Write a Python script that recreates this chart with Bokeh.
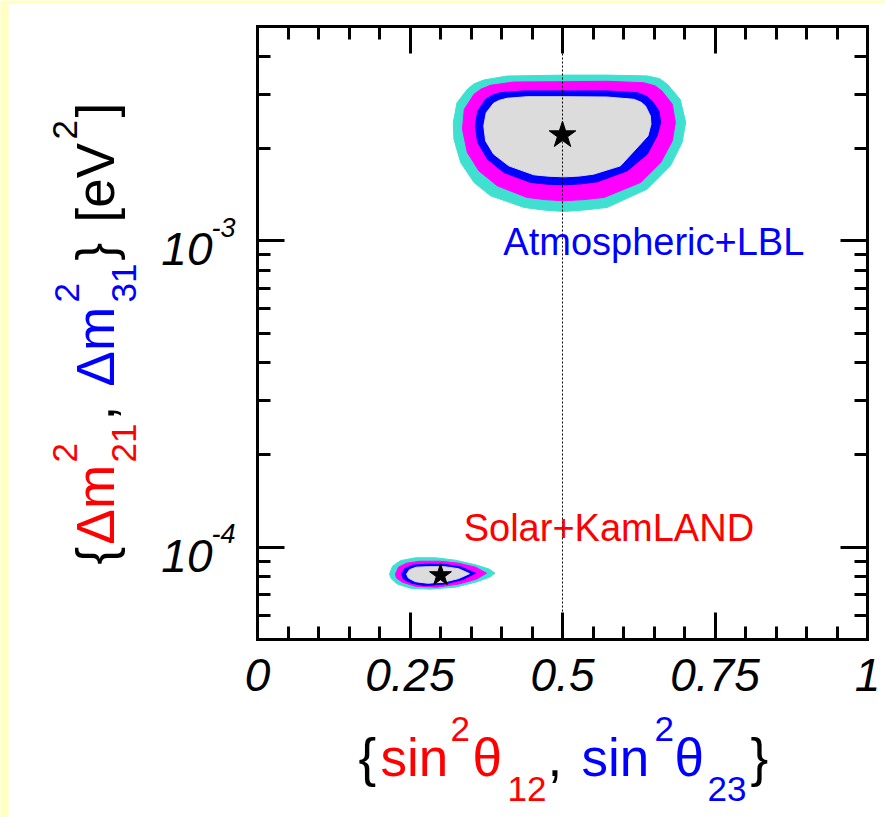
from bokeh.plotting import figure
from bokeh.models import Range1d, LinearAxis, LogAxis, FixedTicker, Label, BoxAnnotation
from bokeh.embed import file_html
from bokeh.resources import INLINE
import math

# ---------------- data ----------------
x_ticks = [0, 0.25, 0.5, 0.75, 1]
x_tick_labels = ["0", "0.25", "0.5", "0.75", "1"]
x_minor = [0.05, 0.1, 0.15, 0.2, 0.3, 0.35, 0.4, 0.45, 0.55, 0.6, 0.65, 0.7,
           0.8, 0.85, 0.9, 0.95]
y_ticks = [1e-4, 1e-3]
y_tick_exponents = ["-4", "-3"]
y_minor = [6e-5, 7e-5, 8e-5, 9e-5, 2e-4, 3e-4, 4e-4, 5e-4, 6e-4, 7e-4, 8e-4,
           9e-4, 2e-3, 3e-3, 4e-3]
x_lo, x_hi = 0.0, 1.0
y_lo, y_hi = 5e-5, 5e-3

# Atmospheric + LBL allowed regions (sin^2 theta23, dm^2_31 [eV^2])
atm_cyan_x = [0.502, 0.573, 0.639, 0.659, 0.672, 0.693, 0.702, 0.696, 0.677, 0.639, 0.573,
              0.535, 0.502, 0.469, 0.437, 0.382, 0.355, 0.333, 0.322, 0.321, 0.327, 0.344,
              0.355, 0.371, 0.409]
atm_cyan_y = [3.47e-3, 3.47e-3, 3.45e-3, 3.38e-3, 3.24e-3, 2.89e-3, 2.43e-3, 2.09e-3,
              1.755e-3, 1.474e-3, 1.284e-3, 1.259e-3, 1.246e-3, 1.259e-3, 1.284e-3,
              1.402e-3, 1.549e-3, 1.799e-3, 2.145e-3, 2.43e-3, 2.82e-3, 3.12e-3, 3.25e-3,
              3.345e-3, 3.447e-3]
atm_mag_x = [0.502, 0.573, 0.633, 0.652, 0.663, 0.680, 0.685, 0.680, 0.661, 0.628, 0.568,
             0.535, 0.502, 0.471, 0.442, 0.393, 0.363, 0.344, 0.336, 0.339, 0.355, 0.366,
             0.382, 0.420]
atm_mag_y = [3.303e-3, 3.313e-3, 3.278e-3, 3.20e-3, 3.081e-3, 2.788e-3, 2.43e-3, 2.117e-3,
             1.799e-3, 1.549e-3, 1.384e-3, 1.362e-3, 1.350e-3, 1.362e-3, 1.384e-3,
             1.511e-3, 1.690e-3, 1.940e-3, 2.311e-3, 2.685e-3, 3.006e-3, 3.12e-3,
             3.215e-3, 3.295e-3]
atm_blue_x = [0.502, 0.573, 0.622, 0.638, 0.647, 0.658, 0.661, 0.655, 0.639, 0.606, 0.557,
              0.530, 0.502, 0.475, 0.448, 0.404, 0.377, 0.361, 0.357, 0.361, 0.374, 0.384,
              0.398, 0.437]
atm_blue_y = [3.081e-3, 3.081e-3, 3.042e-3, 2.96e-3, 2.858e-3, 2.652e-3, 2.43e-3, 2.198e-3,
              1.917e-3, 1.690e-3, 1.557e-3, 1.533e-3, 1.522e-3, 1.530e-3, 1.549e-3,
              1.669e-3, 1.845e-3, 2.091e-3, 2.370e-3, 2.652e-3, 2.894e-3, 2.98e-3,
              3.042e-3, 3.081e-3]
atm_gray_x = [0.502, 0.573, 0.617, 0.629, 0.636, 0.644, 0.645, 0.640, 0.625, 0.595, 0.551,
              0.527, 0.502, 0.477, 0.453, 0.412, 0.387, 0.374, 0.371, 0.375, 0.387, 0.396,
              0.409, 0.442]
atm_gray_y = [2.951e-3, 2.944e-3, 2.894e-3, 2.83e-3, 2.753e-3, 2.554e-3, 2.399e-3, 2.198e-3,
              2.039e-3, 1.755e-3, 1.649e-3, 1.625e-3, 1.616e-3, 1.624e-3, 1.641e-3,
              1.755e-3, 1.917e-3, 2.117e-3, 2.370e-3, 2.618e-3, 2.809e-3, 2.87e-3,
              2.916e-3, 2.951e-3]
atm_best_x = [0.50]
atm_best_y = [2.21e-3]

# Solar + KamLAND allowed regions (sin^2 theta12, dm^2_21 [eV^2])
sol_cyan_x = [0.2164, 0.2213, 0.2344, 0.2590, 0.2918, 0.3246, 0.3574, 0.3803, 0.3893,
              0.3803, 0.3574, 0.3246, 0.2836, 0.2508, 0.2295, 0.2197]
sol_cyan_y = [0.817e-4, 0.867e-4, 0.904e-4, 0.924e-4, 0.924e-4, 0.907e-4, 0.877e-4,
              0.848e-4, 0.823e-4, 0.798e-4, 0.769e-4, 0.741e-4, 0.730e-4, 0.735e-4,
              0.758e-4, 0.787e-4]
sol_mag_x = [0.2262, 0.2311, 0.2443, 0.2672, 0.3000, 0.3295, 0.3574, 0.3754, 0.3590,
             0.3295, 0.2934, 0.2590, 0.2377, 0.2279]
sol_mag_y = [0.817e-4, 0.861e-4, 0.887e-4, 0.900e-4, 0.900e-4, 0.887e-4, 0.861e-4,
             0.823e-4, 0.787e-4, 0.758e-4, 0.741e-4, 0.746e-4, 0.769e-4, 0.793e-4]
sol_blue_x = [0.2361, 0.2410, 0.2541, 0.2754, 0.3049, 0.3328, 0.3574, 0.3361, 0.3066,
              0.2754, 0.2525, 0.2393]
sol_blue_y = [0.817e-4, 0.851e-4, 0.874e-4, 0.880e-4, 0.880e-4, 0.864e-4, 0.823e-4,
              0.784e-4, 0.758e-4, 0.749e-4, 0.763e-4, 0.787e-4]
sol_gray_x = [0.2443, 0.2492, 0.2607, 0.2803, 0.3066, 0.3295, 0.3475, 0.3295, 0.3049,
              0.2787, 0.2590, 0.2475]
sol_gray_y = [0.817e-4, 0.845e-4, 0.861e-4, 0.864e-4, 0.864e-4, 0.851e-4, 0.820e-4,
              0.790e-4, 0.769e-4, 0.763e-4, 0.772e-4, 0.793e-4]
sol_best_x = [0.30]
sol_best_y = [8.1e-5]

maximal_mixing = 0.5

# ---------------- layout (pixels) ----------------
W, H = 885, 817
BOX_L, BOX_R, BOX_T, BOX_B = 257, 867, 26, 639
px_per_x = (BOX_R - BOX_L) / (x_hi - x_lo)
px_per_dec = (BOX_B - BOX_T) / (math.log10(y_hi) - math.log10(y_lo))
xr = Range1d(x_lo - BOX_L / px_per_x, x_hi + (W - BOX_R) / px_per_x)
yr = Range1d(10 ** (math.log10(y_lo) - (H - BOX_B) / px_per_dec),
             10 ** (math.log10(y_hi) + BOX_T / px_per_dec))
K = 0.38  # baseline correction (fraction of font size) for Label text

FONT = "Liberation Sans"
p = figure(width=W, height=H, x_range=xr, y_range=yr, y_axis_type="log",
           output_backend="svg", toolbar_location=None, title=None,
           min_border=0, min_border_left=0, min_border_right=0, min_border_top=0,
           min_border_bottom=0, background_fill_color="#ffffc0",
           border_fill_color="#ffffc0", outline_line_color=None)
p.grid.visible = False

# white page area (yellow strips on left and top)
p.add_layout(BoxAnnotation(left=8, top=3, left_units="canvas", top_units="canvas",
                           fill_color="white", fill_alpha=1.0, line_color=None,
                           level="underlay"))

p.add_layout(LinearAxis(), "above")
p.add_layout(LogAxis(), "right")


def style_axis(ax, ticks, minor, loc, bounds, labels=None):
    ax.fixed_location = loc
    ax.bounds = bounds
    ax.ticker = FixedTicker(ticks=ticks, minor_ticks=minor)
    ax.axis_line_width = 3
    ax.axis_line_color = "black"
    ax.axis_line_cap = "square"
    ax.major_tick_in = 27
    ax.major_tick_out = 0
    ax.minor_tick_in = 13
    ax.minor_tick_out = 0
    ax.major_tick_line_width = 3
    ax.minor_tick_line_width = 3
    ax.major_tick_line_color = "black"
    ax.minor_tick_line_color = "black"
    ax.axis_label = None
    if labels is None:
        ax.major_label_overrides = {t: "" for t in ticks}
        ax.major_label_text_font_size = "0px"
        ax.major_label_standoff = 0
    else:
        ax.major_label_overrides = dict(zip(ticks, labels))
        ax.major_label_text_font = FONT
        ax.major_label_text_font_style = "italic"
        ax.major_label_text_font_size = "46px"
        ax.major_label_text_color = "black"
        ax.major_label_standoff = 19


style_axis(p.below[0], x_ticks, x_minor, y_lo, (x_lo, x_hi), x_tick_labels)
style_axis(p.above[0], x_ticks, x_minor, y_hi, (x_lo, x_hi))
style_axis(p.left[0], y_ticks, y_minor, x_lo, (y_lo, y_hi))
style_axis(p.right[0], y_ticks, y_minor, x_hi, (y_lo, y_hi))

# contours
for xs, ys, col in [(atm_cyan_x, atm_cyan_y, "#40e0d0"), (atm_mag_x, atm_mag_y, "#ff00ff"),
                    (atm_blue_x, atm_blue_y, "#0000ff"), (atm_gray_x, atm_gray_y, "#dcdcdc"),
                    (sol_cyan_x, sol_cyan_y, "#40e0d0"), (sol_mag_x, sol_mag_y, "#ff00ff"),
                    (sol_blue_x, sol_blue_y, "#0000ff"), (sol_gray_x, sol_gray_y, "#dcdcdc")]:
    p.patch(xs, ys, fill_color=col, line_color=col, line_width=1, line_join="round")

p.line([maximal_mixing, maximal_mixing], [y_lo, y_hi], line_color="black",
       line_width=1, line_dash="2 2")

p.scatter(atm_best_x, atm_best_y, marker="star", size=28, color="black")
p.scatter(sol_best_x, sol_best_y, marker="star", size=23, color="black")

# region labels
p.add_layout(Label(x=0.403, y=8.87e-4, y_offset=K * 38, text="Atmospheric+LBL",
                   text_color="#0000ff", text_font=FONT, text_font_size="38px",
                   text_baseline="alphabetic"))
p.add_layout(Label(x=0.338, y=1.036e-4, y_offset=K * 38, text="Solar+KamLAND",
                   text_color="#ff0000", text_font=FONT, text_font_size="38px",
                   text_baseline="alphabetic"))

# y tick labels: 10^exp
for t, ex in zip(y_ticks, y_tick_exponents):
    p.add_layout(Label(x=212, x_units="canvas", y=t, y_offset=-26 + K * 46, text="10",
                       text_font=FONT, text_font_style="italic", text_font_size="46px",
                       text_align="right", text_baseline="alphabetic", text_color="black"))
    p.add_layout(Label(x=211, x_units="canvas", y=t, y_offset=3 + K * 27, text=ex,
                       text_font=FONT, text_font_style="italic", text_font_size="27px",
                       text_align="left", text_baseline="alphabetic", text_color="black"))


def piece(text, cx, cy, size, color, angle=0):
    if angle:
        cx = cx - K * size
    else:
        cy = cy - K * size
    p.add_layout(Label(x=cx, y=cy, x_units="canvas", y_units="canvas", text=text,
                       text_font=FONT, text_font_size=f"{size}px", text_color=color,
                       angle=angle, angle_units="deg", text_align="left",
                       text_baseline="alphabetic"))


RED, BLUE, BLACK = "#ff0000", "#0000ff", "#000000"
# x axis title: {sin^2 theta_12, sin^2 theta_23}
for txt, cx, cy, sz, col in [("{", 358, 777, 53, BLACK), ("sin", 380, 777, 53, RED),
                             ("2", 450, 742, 35, RED), ("θ", 472, 777, 53, RED),
                             ("12", 507, 802, 35, RED), (",", 547, 777, 53, BLACK),
                             ("sin", 581, 777, 53, BLUE), ("2", 654, 742, 35, BLUE),
                             ("θ", 674, 777, 53, BLUE), ("23", 707, 802, 35, BLUE),
                             ("}", 750, 777, 53, BLACK)]:
    piece(txt, cx, cy, sz, col)

# y axis title: {Δm^2_21, Δm^2_31} [eV^2]
for txt, cx, cy, sz, col in [("{", 115, 564, 53, BLACK), ("Δm", 115, 544, 53, RED),
                             ("2", 78, 462, 35, RED), ("21", 137, 462, 35, RED),
                             (",", 115, 420, 53, BLACK), ("Δm", 115, 386, 53, BLUE),
                             ("2", 80, 302, 35, BLUE), ("31", 137, 302, 35, BLUE),
                             ("}", 115, 260, 53, BLACK), ("[eV", 115, 222, 53, BLACK),
                             ("2", 78, 139, 35, BLACK), ("]", 115, 117, 53, BLACK)]:
    piece(txt, cx, cy, sz, col, angle=90)

open("out.html", "w").write(file_html(p, INLINE))
